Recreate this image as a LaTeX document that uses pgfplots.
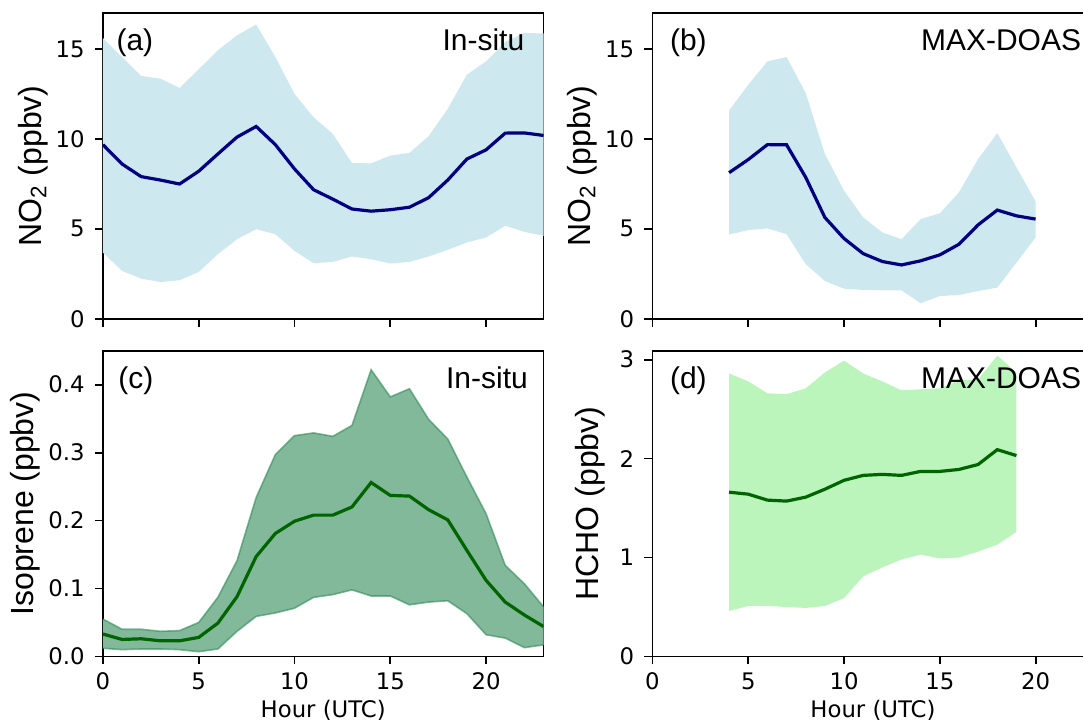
\documentclass[border=0pt]{standalone}
\usepackage{fontspec}
\setmainfont{Liberation Sans}
\newfontfamily\dejavu{DejaVu Sans}
\usepackage{pgfplots}
\usepackage{pgfplotstable}
\pgfplotsset{compat=1.18}

\definecolor{bandblue}{HTML}{CEE8F0}
\definecolor{bandsea}{HTML}{82B99A}
\definecolor{seagreen}{HTML}{2E8B57}
\definecolor{bandlg}{HTML}{BCF5BC}
\definecolor{navyc}{HTML}{000080}
\definecolor{dkgreen}{HTML}{006400}

% mean lines
\pgfplotstableread{
h mean
0 9.68
1 8.60
2 7.90
3 7.71
4 7.49
5 8.20
6 9.16
7 10.10
8 10.69
9 9.68
10 8.33
11 7.17
12 6.65
13 6.10
14 5.98
15 6.06
16 6.20
17 6.73
18 7.71
19 8.88
20 9.39
21 10.32
22 10.33
23 10.19
}\tA
% band: upper bound forward, lower bound backward
\pgfplotstableread{
h v
0 15.60
1 14.55
2 13.50
3 13.35
4 12.83
5 13.87
6 14.93
7 15.76
8 16.36
9 14.55
10 12.50
11 11.20
12 10.28
13 8.66
14 8.64
15 9.07
16 9.22
17 10.15
18 11.67
19 13.57
20 14.31
21 15.39
22 15.89
23 15.86
23 4.61
22 4.83
21 5.17
20 4.52
19 4.24
18 3.83
17 3.46
16 3.16
15 3.07
14 3.31
13 3.46
12 3.16
11 3.09
10 3.77
9 4.70
8 4.98
7 4.42
6 3.59
5 2.60
4 2.14
3 2.04
2 2.23
1 2.66
0 3.68
}\bA

\pgfplotstableread{
h mean
4 8.12
5 8.85
6 9.68
7 9.67
8 7.86
9 5.63
10 4.46
11 3.62
12 3.18
13 2.99
14 3.22
15 3.55
16 4.14
17 5.22
18 6.04
19 5.72
20 5.54
}\tB
\pgfplotstableread{
h v
4 11.58
5 13.01
6 14.31
7 14.55
8 12.55
9 9.16
10 7.12
11 5.63
12 4.80
13 4.42
14 5.54
15 5.86
16 7.03
17 8.88
18 10.32
19 8.42
20 6.52
20 4.52
19 3.12
18 1.73
17 1.54
16 1.32
15 1.26
14 0.86
13 1.58
12 1.58
11 1.60
10 1.67
9 2.10
8 3.03
7 4.70
6 5.02
5 4.93
4 4.68
}\bB

\pgfplotstableread{
h mean hi lo
0 0.033 0.055 0.012
1 0.025 0.040 0.010
2 0.026 0.040 0.011
3 0.023 0.037 0.011
4 0.023 0.038 0.010
5 0.028 0.050 0.007
6 0.049 0.087 0.011
7 0.088 0.141 0.037
8 0.147 0.234 0.059
9 0.181 0.297 0.064
10 0.199 0.325 0.071
11 0.208 0.329 0.087
12 0.208 0.324 0.091
13 0.220 0.340 0.098
14 0.256 0.422 0.089
15 0.237 0.382 0.089
16 0.236 0.394 0.076
17 0.216 0.349 0.080
18 0.201 0.320 0.082
19 0.156 0.264 0.063
20 0.112 0.210 0.032
21 0.080 0.134 0.027
22 0.061 0.107 0.013
23 0.044 0.073 0.017
}\tC
\pgfplotstableread{
h v
0 0.055
1 0.040
2 0.040
3 0.037
4 0.038
5 0.050
6 0.087
7 0.141
8 0.234
9 0.297
10 0.325
11 0.329
12 0.324
13 0.340
14 0.422
15 0.382
16 0.394
17 0.349
18 0.320
19 0.264
20 0.210
21 0.134
22 0.107
23 0.073
23 0.017
22 0.013
21 0.027
20 0.032
19 0.063
18 0.082
17 0.080
16 0.076
15 0.089
14 0.089
13 0.098
12 0.091
11 0.087
10 0.071
9 0.064
8 0.059
7 0.037
6 0.011
5 0.007
4 0.010
3 0.011
2 0.011
1 0.010
0 0.012
}\bC

\pgfplotstableread{
h mean
4 1.66
5 1.64
6 1.58
7 1.57
8 1.61
9 1.69
10 1.78
11 1.83
12 1.84
13 1.83
14 1.87
15 1.87
16 1.89
17 1.94
18 2.09
19 2.03
}\tD
\pgfplotstableread{
h v
4 2.86
5 2.78
6 2.66
7 2.65
8 2.71
9 2.87
10 2.99
11 2.86
12 2.78
13 2.69
14 2.70
15 2.71
16 2.79
17 2.80
18 3.04
19 2.87
19 1.26
18 1.13
17 1.06
16 1.00
15 0.99
14 1.03
13 0.98
12 0.90
11 0.81
10 0.59
9 0.51
8 0.49
7 0.50
6 0.51
5 0.51
4 0.46
}\bD

\pgfplotsset{
  panel/.style={
    scale only axis, width=220.5bp, height=153bp,
    xmin=0, xmax=23, ymin=0,
    axis line style={line width=0.9bp},
    every tick/.style={line width=0.9bp, black},
    major tick length=4bp, tick align=outside, tick pos=left,
    xtick={0,5,10,15,20},
    /pgf/number format/assume math mode=true,
    tick label style={font=\dejavu\fontsize{11.4bp}{13bp}\selectfont, inner sep=0pt},
    xticklabel shift=4bp, yticklabel shift=5bp,
    ylabel style={font=\fontsize{16bp}{18bp}\selectfont, anchor=center},
    xlabel style={font=\dejavu\fontsize{11.4bp}{13bp}\selectfont, at={(axis description cs:0.5,0)}, anchor=base, yshift=-30.5bp},
  },
  cutpanel/.style={
    panel, width=215.5bp, xmax=22.48,
    axis x line*=bottom, axis y line*=left,
    tick align=outside, major tick length=4bp,
    axis line style={line width=0.9bp, -},
  },
}
\tikzset{ptext/.style={font=\fontsize{15bp}{17bp}\selectfont, anchor=base west, inner sep=0pt}}

\begin{document}
\begin{tikzpicture}
\path (0,0) rectangle (542bp,361.5bp);

% (a)
\begin{axis}[panel, at={(51.5bp,355bp)}, anchor=north west,
  ymax=17, ytick={0,5,10,15}, xticklabels={},
  ylabel={NO\textsubscript{2} (ppbv)},
  ylabel style={at={(axis description cs:-0.159,0.5)}}]
\addplot[fill=bandblue, draw=none] table[x=h,y=v]{\bA} -- cycle;
\addplot[navyc, line width=1.6bp] table[x=h,y=mean]{\tA};
\node[ptext] at (axis description cs:0.03,0.876) {(a)};
\node[ptext] at (axis description cs:0.770,0.876) {In-situ};
\end{axis}

% (b)
\begin{axis}[cutpanel, name=pb, at={(326.5bp,355bp)}, anchor=north west,
  ymax=17, ytick={0,5,10,15}, xticklabels={},
  ylabel={NO\textsubscript{2} (ppbv)},
  ylabel style={at={(axis description cs:-0.164,0.5)}}]
\addplot[fill=bandblue, draw=none] table[x=h,y=v]{\bB} -- cycle;
\addplot[navyc, line width=1.6bp] table[x=h,y=mean]{\tB};
\node[ptext] at (axis description cs:0.040,0.876) {(b)};
\node[ptext] at (axis description cs:0.623,0.876) {MAX-DOAS};
\end{axis}
\draw[line width=0.9bp] (pb.north west) -- (pb.north east);

% (c)
\begin{axis}[panel, at={(51.5bp,186bp)}, anchor=north west,
  ymax=0.45, ytick={0,0.1,0.2,0.3,0.4},
  yticklabel style={/pgf/number format/.cd, fixed, fixed zerofill, precision=1},
  xlabel={Hour (UTC)},
  ylabel={Isoprene (ppbv)},
  ylabel style={at={(axis description cs:-0.177,0.5)}}]
\addplot[fill=bandsea, draw=none] table[x=h,y=v]{\bC} -- cycle;
\addplot[seagreen, draw opacity=0.6, line width=0.8bp] table[x=h,y=hi]{\tC};
\addplot[seagreen, draw opacity=0.6, line width=0.8bp] table[x=h,y=lo]{\tC};
\addplot[dkgreen, line width=1.6bp] table[x=h,y=mean]{\tC};
\node[ptext] at (axis description cs:0.034,0.876) {(c)};
\node[ptext] at (axis description cs:0.778,0.876) {In-situ};
\end{axis}

% (d)
\begin{axis}[cutpanel, name=pd, at={(326.5bp,186bp)}, anchor=north west,
  ymax=3.09, ytick={0,1,2,3},
  xlabel={Hour (UTC)},
  ylabel={HCHO (ppbv)},
  ylabel style={at={(axis description cs:-0.144,0.5)}},
  xlabel style={at={(axis description cs:0.512,0)}}]
\addplot[fill=bandlg, draw=none] table[x=h,y=v]{\bD} -- cycle;
\addplot[dkgreen, line width=1.6bp] table[x=h,y=mean]{\tD};
\node[ptext] at (axis description cs:0.040,0.876) {(d)};
\node[ptext] at (axis description cs:0.623,0.876) {MAX-DOAS};
\end{axis}
\draw[line width=0.9bp] (pd.north west) -- (pd.north east);
\end{tikzpicture}
\end{document}
